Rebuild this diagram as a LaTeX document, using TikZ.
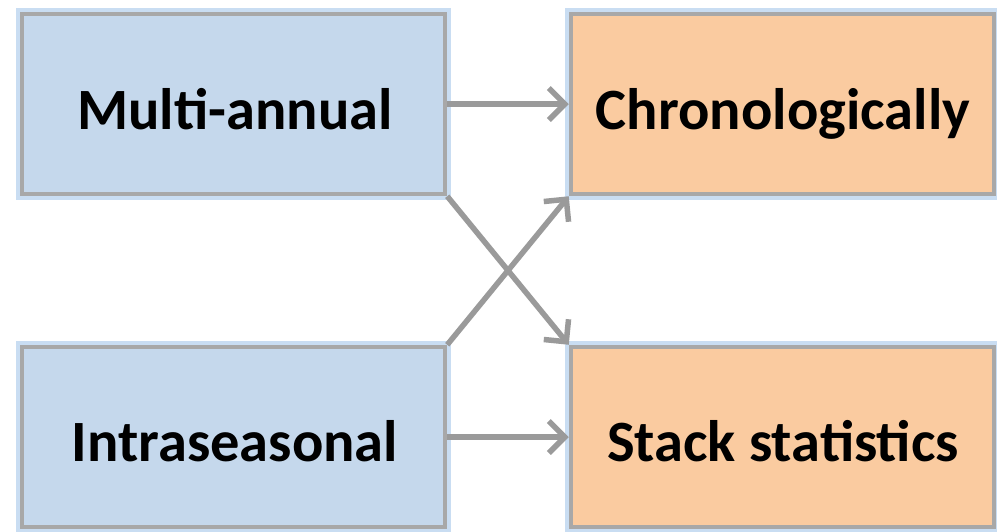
\documentclass[tikz,border=0pt]{standalone}
\usepackage{fontspec}
\setmainfont{Carlito}
\usetikzlibrary{arrows.meta}
\definecolor{bfill}{HTML}{C5D8EC}
\definecolor{ofill}{HTML}{FACBA0}
\definecolor{bord}{HTML}{A8A8A8}
\definecolor{glow}{HTML}{C9DDF2}
\definecolor{arr}{HTML}{9A9A9A}
\tikzset{
  box/.style={draw=bord, line width=4.5pt, minimum width=423pt, minimum height=180pt,
    font=\fontsize{58.5}{70}\selectfont\bfseries, text=black, inner sep=0pt,
    text depth=0pt, preaction={draw=glow, line width=12pt}},
  bluebox/.style={box, fill=bfill},
  orangebox/.style={box, fill=ofill},
  lbl/.style={font=\fontsize{58.5}{70}\selectfont\bfseries, inner sep=0pt, anchor=base},
  conn/.style={draw=arr, line width=5.5pt, -{Straight Barb[length=16pt, width=32pt, line width=5.5pt]}}
}
\begin{document}
\begin{tikzpicture}[x=1pt,y=-1pt]
\useasboundingbox[fill=white] (0,0) rectangle (997,531);
\node[bluebox] (ma) at (233.5,104) {};
\node[bluebox] (in) at (233.5,437) {};
\node[orangebox] (ch) at (782.5,104) {};
\node[orangebox] (st) at (782.5,437) {};
\node[lbl] (mat) at (235,129) {Multi-annual};
\node[lbl] (int) at (235,461) {Intraseasonal};
\node[lbl] (cht) at (783,129) {Chronologically};
\node[lbl] (stt) at (783,461) {Stack statistics};
\draw[conn] (ma.east) -- (ch.west);
\draw[conn] (in.east) -- (st.west);
\draw[conn] (ma.south east) -- (st.north west);
\draw[conn] (in.north east) -- (ch.south west);
\end{tikzpicture}
\end{document}
